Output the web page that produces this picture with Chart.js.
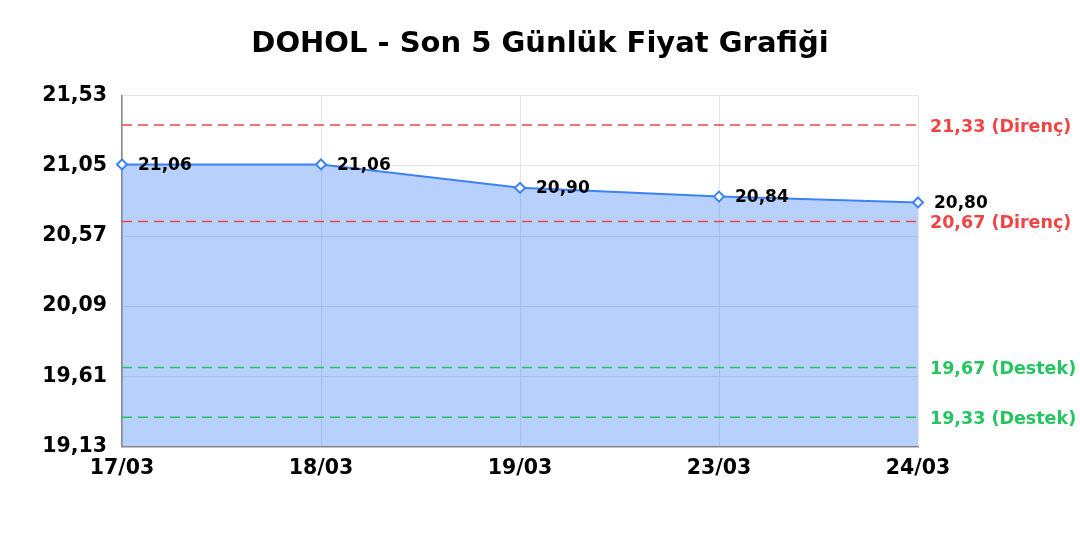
<!DOCTYPE html>
<html>
<head>
<meta charset="utf-8">
<script src="https://cdn.jsdelivr.net/npm/chart.js@4/dist/chart.umd.min.js"></script>
<style>
  html, body { margin: 0; padding: 0; background: #fff; }
  #wrap { width: 1080px; height: 540px; }
</style>
</head>
<body>
<div id="wrap"><canvas id="priceChart"></canvas></div>
<script>
// data
const dates = ['17/03', '18/03', '19/03', '23/03', '24/03'];
const prices = [21.06, 21.06, 20.90, 20.84, 20.80];
const yTicks = [19.13, 19.61, 20.09, 20.57, 21.05, 21.53];
const levelValues = [21.33, 20.67, 19.67, 19.33];
const levelKinds = ['Direnç', 'Direnç', 'Destek', 'Destek'];

const fmt = v => v.toFixed(2).replace('.', ',');

Chart.defaults.font.family = '"DejaVu Sans", Verdana, sans-serif';
Chart.defaults.color = '#000';

// support / resistance lines with labels on the right
const levelLines = {
    id: 'levelLines',
    afterDatasetsDraw(chart) {
        const { ctx, chartArea, scales } = chart;
        ctx.save();
        levelValues.forEach(function(v, i) {
            const y = scales.y.getPixelForValue(v);
            const col = levelKinds[i] === 'Direnç' ? '#ef4444' : '#22c55e';
            ctx.strokeStyle = col;
            ctx.lineWidth = 1.5;
            ctx.setLineDash([10, 6]);
            ctx.beginPath();
            ctx.moveTo(chartArea.left, y);
            ctx.lineTo(chartArea.right, y);
            ctx.stroke();
            ctx.setLineDash([]);
            ctx.fillStyle = col;
            ctx.font = 'bold 17.5px "DejaVu Sans"';
            ctx.textAlign = 'left';
            ctx.textBaseline = 'middle';
            ctx.fillText(fmt(v) + ' (' + levelKinds[i] + ')', chartArea.right + 12, y + 2);
        });
        ctx.restore();
    }
};

// value labels next to each point
const pointLabels = {
    id: 'pointLabels',
    afterDatasetsDraw(chart) {
        const { ctx } = chart;
        const meta = chart.getDatasetMeta(0);
        ctx.save();
        ctx.fillStyle = '#000';
        ctx.font = 'bold 17px "DejaVu Sans"';
        ctx.textAlign = 'left';
        ctx.textBaseline = 'middle';
        meta.data.forEach(function(pt, i) {
            ctx.fillText(fmt(prices[i]), pt.x + 16, pt.y + 1);
        });
        ctx.restore();
    }
};

const chart = new Chart(document.getElementById('priceChart'), {
    type: 'line',
    data: {
        labels: dates,
        datasets: [{
            data: prices,
            borderColor: '#3b82f6',
            borderWidth: 2,
            backgroundColor: 'rgba(59, 130, 246, 0.37)',
            fill: 'start',
            tension: 0,
            pointStyle: 'rectRot',
            pointRadius: 5,
            pointBorderWidth: 2,
            pointBackgroundColor: '#fff',
            pointBorderColor: '#3b82f6'
        }]
    },
    options: {
        responsive: true,
        maintainAspectRatio: false,
        animation: false,
        layout: {
            padding: { left: 0, right: 0, top: 0, bottom: 49 }
        },
        plugins: {
            legend: { display: false },
            tooltip: { enabled: false },
            title: {
                display: true,
                text: 'DOHOL - Son 5 Günlük Fiyat Grafiği',
                color: '#000',
                font: { size: 29, weight: 'bold' },
                padding: { top: 27, bottom: 34 }
            }
        },
        scales: {
            x: {
                grid: { color: '#e5e5e5', drawTicks: false },
                border: { color: '#888', width: 1.5 },
                ticks: {
                    padding: 10,
                    maxRotation: 0,
                    font: { size: 20.5, weight: 'bold' }
                }
            },
            y: {
                min: 19.13,
                max: 21.53,
                afterBuildTicks: function(scale) {
                    scale.ticks = yTicks.map(v => ({ value: v }));
                },
                afterFit: function(scale) { scale.width = 122; },
                grid: { color: '#e5e5e5', drawTicks: false },
                border: { color: '#888', width: 1.5 },
                ticks: {
                    padding: 15,
                    font: { size: 20.5, weight: 'bold' },
                    callback: v => fmt(v)
                }
            },
            // empty right-hand axis that reserves room for the level labels
            yRight: {
                position: 'right',
                min: 19.13,
                max: 21.53,
                afterFit: function(scale) { scale.width = 162; },
                grid: { display: false },
                border: { display: false },
                ticks: { display: false }
            }
        }
    },
    plugins: [levelLines, pointLabels]
});
</script>
</body>
</html>
